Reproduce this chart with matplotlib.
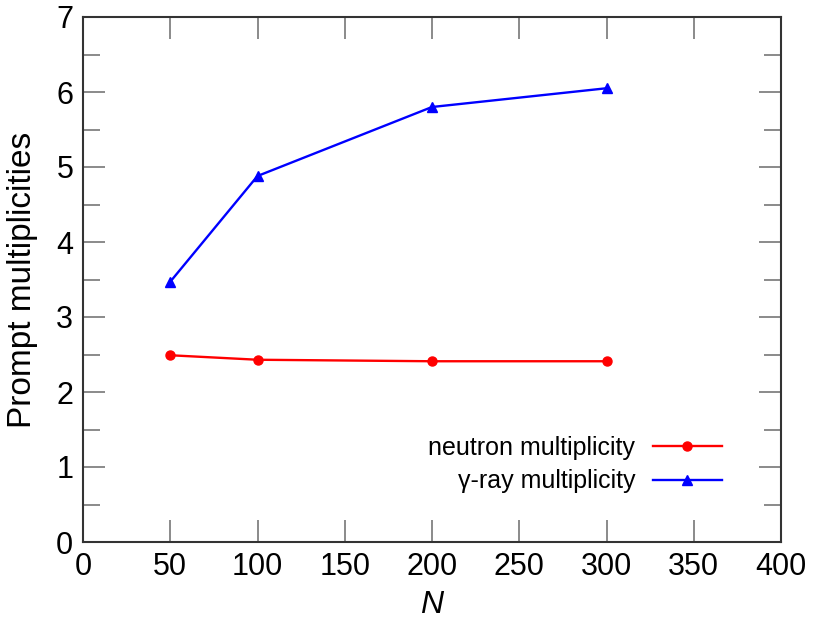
import matplotlib
matplotlib.use("Agg")
import matplotlib.pyplot as plt
from matplotlib.ticker import MultipleLocator

plt.rcParams['font.family'] = ['Liberation Sans', 'DejaVu Sans']

N = [50, 100, 200, 300]
neutron_mult = [2.49, 2.43, 2.41, 2.41]
gamma_mult = [3.47, 4.88, 5.80, 6.05]
xticks = [0, 50, 100, 150, 200, 250, 300, 350, 400]
yticks = [0, 1, 2, 3, 4, 5, 6, 7]

fig = plt.figure(figsize=(8.17, 6.2), dpi=100)
ax = fig.add_axes([83 / 817, 1 - 542 / 620, (781 - 83) / 817, (542 - 17) / 620])

ax.plot(N, neutron_mult, color='#ff0000', lw=1.7, marker='o', ms=6.5,
        label='neutron multiplicity')
ax.plot(N, gamma_mult, color='#0000ff', lw=1.7, marker='^', ms=7.5,
        label='γ-ray multiplicity')

ax.set_xlim(0, 400)
ax.set_ylim(0, 7)
ax.set_xticks(xticks)
ax.set_yticks(yticks)
ax.yaxis.set_minor_locator(MultipleLocator(0.5))
ax.tick_params(which='both', direction='in', top=True, right=True,
               color='#777777', width=1.2, labelsize=22, pad=7)
ax.tick_params(which='major', length=16)
ax.tick_params(which='minor', length=12)
for s in ax.spines.values():
    s.set_color('#333333')
    s.set_linewidth(1.5)

ax.set_xlabel('N', fontsize=23, style='italic', labelpad=6)
ax.set_ylabel('Prompt multiplicities', fontsize=24, labelpad=13)

leg = ax.legend(loc='lower right', bbox_to_anchor=(0.947, 0.05), frameon=False,
                markerfirst=False, fontsize=18, handlelength=2.75,
                handletextpad=0.7, labelspacing=0.38)

fig.savefig('out.png', dpi=100)
